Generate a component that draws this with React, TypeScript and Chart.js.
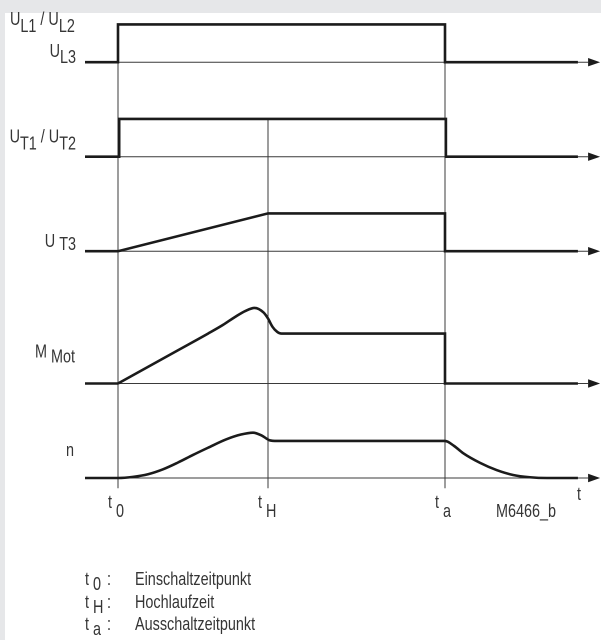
import React, { useEffect, useRef } from 'react';
import { Chart, registerables } from 'chart.js';

Chart.register(...registerables);

// ---- data (time in arbitrary units, levels in "nominal high" units) ----
const timeMarks = [0, 5, 10.9]; // t0, tH, ta
const timeMarkSubs = ['0', 'H', 'a'];
const timeMarkDescriptions = ['Einschaltzeitpunkt', 'Hochlaufzeit', 'Ausschaltzeitpunkt'];
const channelBaselines = [11, 8.5, 6, 2.5, 0]; // UL, UT1/2, UT3, MMot, n
const markerTops = [12, 9.5, 12];
const markerBottom = -0.27;
const traceStart = -1.1;
const arrowBase = 15.67;
const arrowTip = 16.07;

const ulTimes = [-1.1, 0, 0, 10.9, 10.9, 15.33];
const ulLevels = [0, 0, 1, 1, 0, 0];

const utTimes = [-1.1, 0.04, 0.04, 10.93, 10.93, 15.33];
const utLevels = [0, 0, 1, 1, 0, 0];

const ut3Times = [-1.1, 0, 5, 10.9, 10.9, 15.33];
const ut3Levels = [0, 0, 1, 1, 0, 0];

const motCurveTimes = [0, 1, 2, 3, 3.5, 3.9, 4.25, 4.55, 4.85, 5.0, 5.15, 5.3, 5.45, 5.6, 6.0];
const motCurveLevels = [0, 0.44, 0.88, 1.32, 1.55, 1.76, 1.92, 2.0, 1.88, 1.72, 1.5, 1.37, 1.32, 1.32, 1.32];
const motStepTimes = [-1.1, 0, 3, 6, 10.9, 10.9, 15.33];
const motStepLevels: (number | null)[] = [0, 0, null, 1.32, 1.32, 0, 0];

const nTimes = [-1.1, 0, 0.5, 1, 1.5, 2, 2.5, 3, 3.6, 4.1, 4.5, 4.8, 5.05, 5.3, 10.9, 11.2, 11.5, 12.07, 12.62, 13.17, 13.73, 14.3, 15.33];
const nLevels = [0, 0, 0.03, 0.1, 0.23, 0.41, 0.61, 0.8, 1.02, 1.15, 1.2, 1.12, 1.0, 0.98, 0.98, 0.85, 0.66, 0.4, 0.21, 0.08, 0.02, 0, 0];

type Run = [string, boolean];
const channelLabelRuns: Run[][][] = [
  [
    [['U', false], ['L1', true], [' / ', false], ['U', false], ['L2', true]],
    [['U', false], ['L3', true]],
  ],
  [[['U', false], ['T1', true], [' / ', false], ['U', false], ['T2', true]]],
  [[['U ', false], ['T3', true]]],
  [[['M ', false], ['Mot', true]]],
  [[['n', false]]],
];
const codeLabel = 'M6466_b';
const axisLabel = 't';

// ---- layout / style ----
const W = 601;
const H = 640;
const PX_PER_T = 30;
const PX_PER_V = 37.8;
const T0_PX = 118;
const BASE_N_PX = 478;
const FONT = '"Liberation Sans", Arial, sans-serif';
const FONT_SIZE = 18;
const NARROW = 0.8;
const TEXT_COLOR = '#353535';
const THICK = '#1b1b1b';
const THIN = '#3a3a3a';

// label layout per channel line: [align, x px, dy from baseline px, subscript dy]
const labelLayout: [string, number, number, number][][] = [
  [['left', 10, -37, 7], ['right', 76, -5, 6]],
  [['right', 76, -14, 7]],
  [['right', 76, -4, 3]],
  [['right', 75, -26, 5]],
  [['right', 74, -22, 0]],
];

function pts(times: number[], levels: (number | null)[], base: number) {
  return times.map((t, i) => ({ x: t, y: levels[i] == null ? null : (levels[i] as number) + base }));
}

function textW(ctx: CanvasRenderingContext2D, s: string) {
  return ctx.measureText(s).width * NARROW;
}

function fillNarrow(ctx: CanvasRenderingContext2D, s: string, x: number, y: number) {
  ctx.save();
  ctx.translate(x, y);
  ctx.scale(NARROW, 1);
  ctx.fillText(s, 0, 0);
  ctx.restore();
}

function drawRuns(ctx: CanvasRenderingContext2D, runs: Run[], x: number, y: number, align: string, subDy: number) {
  const widths = runs.map((r) => textW(ctx, r[0]));
  const total = widths.reduce((a, b) => a + b, 0);
  let cx = align === 'right' ? x - total : x;
  runs.forEach((r, i) => {
    fillNarrow(ctx, r[0], cx, y + (r[1] ? subDy : 0));
    cx += widths[i];
  });
}

const overlayPlugin = {
  id: 'overlay',
  afterDatasetsDraw(chart: any) {
    const ctx: CanvasRenderingContext2D = chart.ctx;
    const xs = chart.scales.x;
    const ys = chart.scales.y;
    ctx.save();
    ctx.fillStyle = THICK;
    channelBaselines.forEach((b) => {
      const y = ys.getPixelForValue(b);
      const xb = xs.getPixelForValue(arrowBase);
      const xt = xs.getPixelForValue(arrowTip);
      ctx.beginPath();
      ctx.moveTo(xt, y);
      ctx.lineTo(xb, y - 4.2);
      ctx.lineTo(xb, y + 4.2);
      ctx.closePath();
      ctx.fill();
    });
    ctx.restore();
  },
  afterDraw(chart: any) {
    const ctx: CanvasRenderingContext2D = chart.ctx;
    const xs = chart.scales.x;
    const ys = chart.scales.y;
    ctx.save();
    ctx.fillStyle = TEXT_COLOR;
    ctx.textBaseline = 'alphabetic';
    ctx.textAlign = 'left';
    ctx.font = `${FONT_SIZE}px ${FONT}`;
    // channel labels
    channelLabelRuns.forEach((lines, ci) => {
      const by = ys.getPixelForValue(channelBaselines[ci]);
      lines.forEach((runs, li) => {
        const [align, x, dy, subDy] = labelLayout[ci][li];
        drawRuns(ctx, runs, x, by + dy, align, subDy);
      });
    });
    // time mark labels
    const nBase = ys.getPixelForValue(channelBaselines[4]);
    timeMarks.forEach((m, i) => {
      const x = xs.getPixelForValue(m);
      fillNarrow(ctx, 't', x - 10, nBase + 30);
      fillNarrow(ctx, timeMarkSubs[i], x - 2, nBase + 39);
    });
    fillNarrow(ctx, codeLabel, xs.getPixelForValue(12.6), nBase + 39);
    fillNarrow(ctx, axisLabel, xs.getPixelForValue(15.3), nBase + 22);
    // legend
    const rows = [585, 608, 630];
    timeMarkDescriptions.forEach((d, i) => {
      fillNarrow(ctx, 't', 85, rows[i]);
      fillNarrow(ctx, timeMarkSubs[i], 93, rows[i] + 5);
      fillNarrow(ctx, ':', 107, rows[i]);
      fillNarrow(ctx, d, 135, rows[i]);
    });
    ctx.restore();
  },
};

export default function App() {
  const ref = useRef<HTMLCanvasElement | null>(null);
  useEffect(() => {
    if (!ref.current) return;
    const thick = {
      borderColor: THICK,
      borderWidth: 2.6,
      pointRadius: 0,
      fill: false,
      tension: 0,
      borderJoinStyle: 'miter' as const,
      borderCapStyle: 'butt' as const,
    };
    const thin = {
      borderColor: THIN,
      borderWidth: 1,
      pointRadius: 0,
      fill: false,
      tension: 0,
    };
    const datasets: any[] = [
      { ...thick, data: pts(ulTimes, ulLevels, channelBaselines[0]) },
      { ...thick, data: pts(utTimes, utLevels, channelBaselines[1]) },
      { ...thick, data: pts(ut3Times, ut3Levels, channelBaselines[2]) },
      { ...thick, data: pts(motCurveTimes, motCurveLevels, channelBaselines[3]), cubicInterpolationMode: 'monotone' },
      { ...thick, data: pts(motStepTimes, motStepLevels, channelBaselines[3]), spanGaps: false },
      { ...thick, data: pts(nTimes, nLevels, channelBaselines[4]), cubicInterpolationMode: 'monotone' },
      ...channelBaselines.map((b) => ({
        ...thin,
        data: [
          { x: traceStart, y: b },
          { x: arrowBase, y: b },
        ],
      })),
      ...timeMarks.map((m, i) => ({
        ...thin,
        data: [
          { x: m, y: markerTops[i] },
          { x: m, y: markerBottom },
        ],
      })),
    ];
    const chart = new Chart(ref.current, {
      type: 'line',
      data: { datasets },
      options: {
        animation: false,
        responsive: false,
        devicePixelRatio: 2,
        layout: { padding: 0 },
        plugins: { legend: { display: false }, tooltip: { enabled: false } },
        scales: {
          x: {
            type: 'linear',
            display: false,
            min: -T0_PX / PX_PER_T,
            max: (W - T0_PX) / PX_PER_T,
          },
          y: {
            type: 'linear',
            display: false,
            min: BASE_N_PX / PX_PER_V - H / PX_PER_V,
            max: BASE_N_PX / PX_PER_V,
          },
        },
      },
      plugins: [overlayPlugin],
    });
    return () => chart.destroy();
  }, []);

  return (
    <div style={{ position: 'fixed', left: 0, top: 0, width: W, height: H, background: '#e6e7e9', overflow: 'hidden' }}>
      <div style={{ position: 'absolute', left: 5, top: 13, right: 0, bottom: 0, background: '#ffffff' }} />
      <canvas ref={ref} width={W} height={H} style={{ position: 'absolute', left: 0, top: 0, width: W, height: H }} />
    </div>
  );
}
